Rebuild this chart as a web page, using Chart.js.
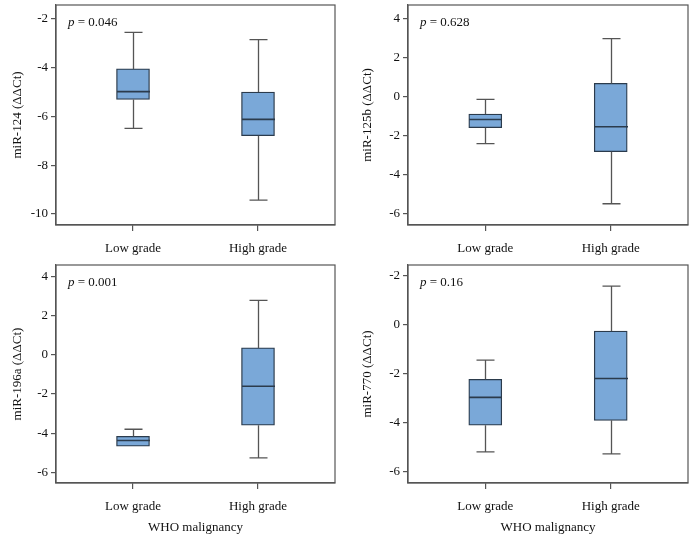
<!DOCTYPE html>
<html>
<head>
<meta charset="utf-8">
<script src="https://cdn.jsdelivr.net/npm/chart.js@4"></script>
<style>
html,body{margin:0;padding:0;background:#fff;}
#wrap{position:relative;width:696px;height:540px;}
.cv{position:absolute;}
</style>
</head>
<body>
<div id="wrap">
  <div class="cv" style="left:0;top:0;width:348px;height:262px;"><canvas id="c1"></canvas></div>
  <div class="cv" style="left:348px;top:0;width:348px;height:262px;"><canvas id="c2"></canvas></div>
  <div class="cv" style="left:0;top:262px;width:348px;height:278px;"><canvas id="c3"></canvas></div>
  <div class="cv" style="left:348px;top:262px;width:348px;height:278px;"><canvas id="c4"></canvas></div>
</div>
<script>
// ---- data ----
const categories = ["Low grade", "High grade"];
// each box: [min, q1, median, q3, max]
const miR124  = [[-6.49, -5.30, -4.98, -4.05, -2.55], [-9.43, -6.79, -6.12, -5.00, -2.85]];
const miR125b = [[-2.39, -1.57, -1.15, -0.87, -0.12], [-5.47, -2.80, -1.52, 0.70, 3.00]];
const miR196a = [[-4.67, -4.67, -4.38, -4.16, -3.80], [-5.26, -3.59, -1.60, 0.36, 2.79]];
const miR770  = [[-5.19, -4.10, -2.96, -2.22, -1.44], [-5.27, -3.90, -2.19, -0.25, 1.59]];
const pValues = ["0.046", "0.628", "0.001", "0.16"];
const yTitles = ["miR-124 (ΔΔCt)", "miR-125b (ΔΔCt)", "miR-196a (ΔΔCt)", "miR-770 (ΔΔCt)"];
const ticks124  = {"-10":"-10", "-8":"-8", "-6":"-6", "-4":"-4", "-2":"-2"};
const ticks125b = {"-6":"-6", "-4":"-4", "-2":"-2", "0":"0", "2":"2", "4":"4"};
const ticks196a = {"-6":"-6", "-4":"-4", "-2":"-2", "0":"0", "2":"2", "4":"4"};
const ticks770  = {"-6":"-6", "-4":"-4", "-2":"-2", "0":"0", "2":"-2"};
const xTitle = "WHO malignancy";

const FONT = "'Liberation Serif', 'DejaVu Serif', serif";
const BOX_FILL = "#7aa8d8";
const BOX_EDGE = "#2b3b4c";
const LINE = "#555555";

const boxPlugin = {
  id: 'boxPlugin',
  afterDatasetsDraw(chart, args, opts) {
    const ctx = chart.ctx;
    const xs = chart.scales.x, ys = chart.scales.y;
    const data = opts.stats;
    ctx.save();
    data.forEach((s, i) => {
      const cx = Math.round(xs.getPixelForValue(i + 1)) + 0.5;
      const [mn, q1, md, q3, mx] = s;
      const capW = 9;
      ctx.strokeStyle = LINE;
      ctx.lineWidth = 1.3;
      ctx.beginPath();
      ctx.moveTo(cx, ys.getPixelForValue(q3)); ctx.lineTo(cx, ys.getPixelForValue(mx));
      ctx.moveTo(cx - capW, ys.getPixelForValue(mx)); ctx.lineTo(cx + capW, ys.getPixelForValue(mx));
      if (mn < q1) {
        ctx.moveTo(cx, ys.getPixelForValue(q1)); ctx.lineTo(cx, ys.getPixelForValue(mn));
        ctx.moveTo(cx - capW, ys.getPixelForValue(mn)); ctx.lineTo(cx + capW, ys.getPixelForValue(mn));
      }
      ctx.stroke();
      // median
      const half = 16.5;
      ctx.strokeStyle = BOX_EDGE;
      ctx.lineWidth = 1.6;
      ctx.beginPath();
      ctx.moveTo(cx - half, ys.getPixelForValue(md)); ctx.lineTo(cx + half, ys.getPixelForValue(md));
      ctx.stroke();
    });
    // frame
    const a = chart.chartArea;
    ctx.strokeStyle = LINE;
    ctx.lineWidth = 1.2;
    ctx.strokeRect(a.left, a.top, a.right - a.left, a.bottom - a.top);
    // p value
    ctx.fillStyle = "#111";
    ctx.textBaseline = "middle";
    ctx.textAlign = "left";
    ctx.font = "italic 13px " + FONT;
    const px = a.left + 12, py = a.top + 18;
    ctx.fillText("p", px, py);
    const w = ctx.measureText("p").width;
    ctx.font = "13px " + FONT;
    ctx.fillText(" = " + opts.p, px + w, py);
    ctx.restore();
  }
};

function makeChart(id, stats, yMin, yMax, tickMap, yTitle, p, showXTitle, xHeight, topPad, yWidth, rightPad, titlePad) {
  const tickVals = Object.keys(tickMap).map(Number);
  new Chart(document.getElementById(id), {
    type: 'bar',
    data: {
      datasets: [{
        data: stats.map((s, i) => ({x: i + 1, y: [s[1], s[3]]})),
        backgroundColor: BOX_FILL,
        borderColor: BOX_EDGE,
        borderWidth: 1.3,
        borderSkipped: false,
        barThickness: 33
      }]
    },
    plugins: [boxPlugin],
    options: {
      responsive: true,
      maintainAspectRatio: false,
      animation: false,
      layout: {padding: {top: topPad, right: rightPad, left: 0, bottom: 0}},
      plugins: {
        legend: {display: false},
        tooltip: {enabled: false},
        boxPlugin: {stats: stats, p: p}
      },
      scales: {
        x: {
          type: 'linear',
          offset: false,
          min: 0.384, max: 2.616,
          afterBuildTicks: (sc) => { sc.ticks = [{value: 1}, {value: 2}]; },
          afterFit: (sc) => { sc.height = xHeight; sc.paddingLeft = 0; sc.paddingRight = 0; },
          ticks: {
            callback: (v) => categories[v - 1],
            font: {family: FONT, size: 13},
            color: "#111",
            padding: 10,
            maxRotation: 0
          },
          grid: {offset: false, drawOnChartArea: false, drawTicks: true, tickLength: 6, color: LINE, lineWidth: 1.2},
          border: {display: true, color: LINE, width: 1.2},
          title: {display: showXTitle, text: xTitle, font: {family: FONT, size: 13}, color: "#111", padding: {top: 0, bottom: 5}}
        },
        y: {
          type: 'linear',
          min: yMin, max: yMax,
          afterBuildTicks: (sc) => { sc.ticks = tickVals.map(v => ({value: v})); },
          afterFit: (sc) => { sc.width = yWidth; sc.paddingTop = 0; sc.paddingBottom = 0; },
          ticks: {
            callback: (v) => tickMap[String(v)],
            font: {family: FONT, size: 13},
            color: "#111",
            padding: 3
          },
          grid: {drawOnChartArea: false, drawTicks: true, tickLength: 5, color: LINE, lineWidth: 1.2},
          border: {display: true, color: LINE, width: 1.2},
          title: {display: true, text: yTitle, font: {family: FONT, size: 13}, color: "#111", padding: {top: titlePad, bottom: 2}}
        }
      }
    }
  });
}

makeChart('c1', miR124, -10.45, -1.43, ticks124, yTitles[0], pValues[0], false, 37, 5, 56, 13, 10);
makeChart('c2', miR125b, -6.56, 4.72, ticks125b, yTitles[1], pValues[1], false, 37, 5, 60, 8, 12);
makeChart('c3', miR196a, -6.55, 4.6, ticks196a, yTitles[2], pValues[2], true, 57, 3, 56, 13, 10);
makeChart('c4', miR770, -6.46, 2.45, ticks770, yTitles[3], pValues[3], true, 57, 3, 60, 8, 12);
</script>
</body>
</html>
